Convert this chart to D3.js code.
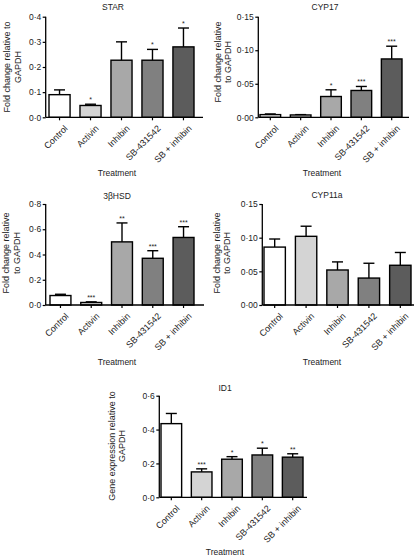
<!DOCTYPE html>
<html><head><meta charset="utf-8">
<script src="https://cdn.jsdelivr.net/npm/d3@7"></script>
<style>body{margin:0;background:#fff}svg text{font-family:"Liberation Sans",Arial,sans-serif;fill:#222}</style>
</head><body>
<svg id="c" width="417" height="557"></svg>
<script>
const categories = ["Control","Activin","Inhibin","SB-431542","SB + inhibin"];
const barColors = ["#ffffff","#d4d4d4","#a8a8a8","#808080","#5c5c5c"];

const starMean = [0.09,0.047,0.227,0.227,0.28];
const starErr  = [0.109,0.052,0.30,0.27,0.355];
const starSig  = ["","*","","*","*"];

const cyp17Mean = [0.004,0.0035,0.031,0.040,0.087];
const cyp17Err  = [0.005,0.004,0.041,0.046,0.106];
const cyp17Sig  = ["","","*","***","***"];

const hsdMean = [0.075,0.02,0.50,0.37,0.535];
const hsdErr  = [0.085,0.025,0.65,0.43,0.62];
const hsdSig  = ["","***","**","***","***"];

const cyp11Mean = [0.086,0.102,0.052,0.040,0.059];
const cyp11Err  = [0.098,0.117,0.064,0.062,0.078];
const cyp11Sig  = ["","","","",""];

const id1Mean = [0.435,0.15,0.225,0.25,0.237];
const id1Err  = [0.495,0.168,0.24,0.29,0.257];
const id1Sig  = ["","***","*","*","**"];

const starTicks = [0,0.1,0.2,0.3,0.4];
const cypTicks = [0,0.05,0.10,0.15];
const hsdTicks = [0,0.2,0.4,0.6,0.8];
const id1Ticks = [0,0.2,0.4,0.6];

const panels = [
 {title:"STAR", mean:starMean, err:starErr, sig:starSig, ticks:starTicks, dec:1, max:0.4,
  ax:45.7, b0:49, b1:194, xe:203, yt:16.7, yb:117.3, tx:113, ty:7, ylab:["Fold change relative to","GAPDH"], yl:[7,18], ylc:67, trx:117, tr:173},
 {title:"CYP17", mean:cyp17Mean, err:cyp17Err, sig:cyp17Sig, ticks:cypTicks, dec:2, max:0.15,
  ax:258.3, b0:260, b1:402, xe:409, yt:16.7, yb:117.3, tx:325, ty:7, ylab:["Fold change relative","to GAPDH"], yl:[218,228], ylc:62, trx:322, tr:173},
 {title:"3βHSD", mean:hsdMean, err:hsdErr, sig:hsdSig, ticks:hsdTicks, dec:1, max:0.8,
  ax:45.7, b0:50, b1:194, xe:204, yt:204, yb:305, tx:117, ty:196, ylab:["Fold change relative","to GAPDH"], yl:[6,17], ylc:253, trx:117, tr:362.5},
 {title:"CYP11a", mean:cyp11Mean, err:cyp11Err, sig:cyp11Sig, ticks:cypTicks, dec:2, max:0.15,
  ax:262.3, b0:264, b1:411, xe:414, yt:204, yb:305, tx:327, ty:195, ylab:["Fold change relative","to GAPDH"], yl:[217,227], ylc:253, trx:322, tr:362.5},
 {title:"ID1", mean:id1Mean, err:id1Err, sig:id1Sig, ticks:id1Ticks, dec:1, max:0.6,
  ax:159.3, b0:161, b1:303, xe:307, yt:395.7, yb:497.3, tx:225, ty:388, ylab:["Gene expression relative to","GAPDH"], yl:[112,122], ylc:446, trx:225, tr:552}
];

const svg = d3.select("#c");
panels.forEach(p => {
  const g = svg.append("g");
  const x = d3.scaleBand().domain(categories).range([p.b0,p.b1]).paddingInner(0.32).paddingOuter(0);
  const y = d3.scaleLinear().domain([0,p.max]).range([p.yb,p.yt]);
  const fmt = v => v.toFixed(p.dec).replace(".","·");

  // y axis
  const ya = g.append("g").attr("transform",`translate(${p.ax},0)`)
    .call(d3.axisLeft(y).tickValues(p.ticks).tickFormat(fmt).tickSize(3).tickPadding(1.5));
  ya.select(".domain").attr("stroke","#000").attr("stroke-width",1.3).attr("d",`M0,${p.yt}V${p.yb}`);
  ya.selectAll(".tick line").attr("stroke","#000").attr("stroke-width",1.2);
  ya.selectAll("text").style("font-size","8.5px").attr("fill","#222");

  // bars
  const data = categories.map((c,i)=>({c, m:p.mean[i], e:p.err[i], s:p.sig[i], col:barColors[i]}));
  const bg = g.append("g");
  bg.selectAll("line.err").data(data).join("line")
    .attr("x1",d=>x(d.c)+x.bandwidth()/2).attr("x2",d=>x(d.c)+x.bandwidth()/2)
    .attr("y1",d=>y(d.m)).attr("y2",d=>y(d.e)).attr("stroke","#000").attr("stroke-width",1.4);
  bg.selectAll("line.cap").data(data).join("line")
    .attr("x1",d=>x(d.c)+x.bandwidth()/2-5.5).attr("x2",d=>x(d.c)+x.bandwidth()/2+5.5)
    .attr("y1",d=>y(d.e)).attr("y2",d=>y(d.e)).attr("stroke","#000").attr("stroke-width",1.4);
  bg.selectAll("rect").data(data).join("rect")
    .attr("x",d=>x(d.c)).attr("width",x.bandwidth())
    .attr("y",d=>y(d.m)).attr("height",d=>y(0)-y(d.m))
    .attr("fill",d=>d.col).attr("stroke","#000").attr("stroke-width",1.4);
  bg.selectAll("text.sig").data(data).join("text")
    .attr("x",d=>x(d.c)+x.bandwidth()/2).attr("y",d=>y(d.e)-2)
    .attr("text-anchor","middle").style("font-size","7px").text(d=>d.s);

  // x axis
  const xa = g.append("g").attr("transform",`translate(0,${p.yb})`)
    .call(d3.axisBottom(x).tickSize(3).tickSizeOuter(0).tickPadding(2));
  xa.select(".domain").attr("stroke","#000").attr("stroke-width",1.3).attr("d",`M${p.ax},0H${p.xe}`);
  xa.selectAll(".tick line").attr("stroke","#000").attr("stroke-width",1.2);
  xa.selectAll("text").style("font-size","9px").attr("fill","#222")
    .attr("text-anchor","end").attr("dy","0.35em")
    .attr("transform","translate(3,6) rotate(-45)");

  g.append("text").attr("x",p.tx).attr("y",p.ty).attr("dy","0.35em").attr("text-anchor","middle")
    .style("font-size","8.5px").text(p.title);
  p.ylab.forEach((t,i)=>{
    g.append("text").attr("transform",`translate(${p.yl[i]},${p.ylc}) rotate(-90)`)
      .attr("text-anchor","middle").attr("dy","0.35em").style("font-size","9px").text(t);
  });
  g.append("text").attr("x",p.trx).attr("y",p.tr).attr("dy","0.35em").attr("text-anchor","middle")
    .style("font-size","8.5px").text("Treatment");
});
</script>
</body></html>
